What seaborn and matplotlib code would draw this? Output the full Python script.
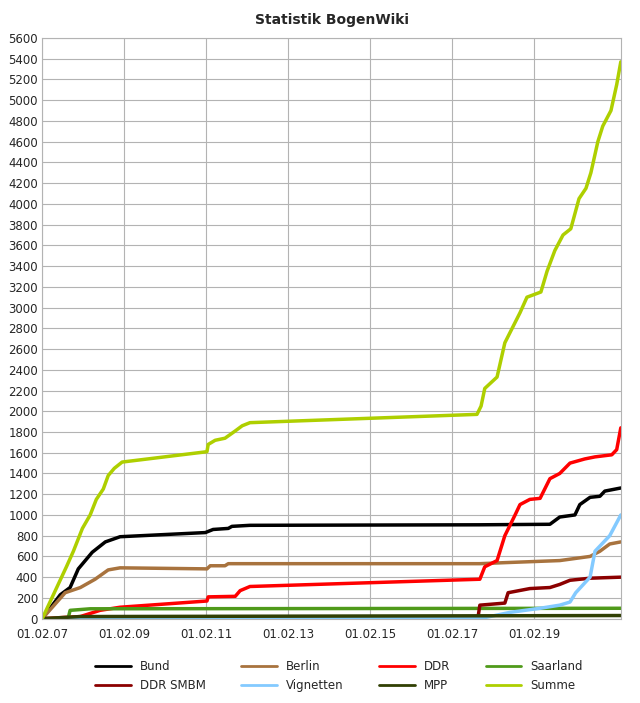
import matplotlib
matplotlib.use("Agg")
import matplotlib.pyplot as plt
import seaborn as sns
import pandas as pd

# x positions read in years since 01.02.2007
bund_x = [0,0.44,0.68,0.88,1.22,1.54,1.9,3.98,4.17,4.54,4.63,5.07,10.68,12.39,12.63,13.0,13.12,13.37,13.61,13.73,14.12]
bund_y = [0,230,300,480,640,740,790,830,860,870,890,900,905,910,980,1000,1100,1170,1180,1230,1260]
berlin_x = [0,0.56,0.93,1.29,1.61,1.9,4.02,4.1,4.46,4.54,10.68,11.29,12.63,13.37,13.61,13.85,14.12]
berlin_y = [0,250,300,380,470,490,480,510,510,530,530,540,560,600,650,720,740]
ddr_x = [0,0.93,1.41,1.9,4.02,4.05,4.71,4.83,5.07,10.68,10.8,11.1,11.29,11.54,11.66,11.9,12.15,12.39,12.63,12.88,13.24,13.49,13.9,14.02,14.12]
ddr_y = [0,20,80,110,170,210,215,270,310,380,500,560,800,1000,1100,1150,1160,1350,1400,1500,1540,1560,1580,1630,1840]
saar_x = [0,0.63,0.68,1.17,14.12]
saar_y = [0,0,80,95,100]
smbm_x = [0,10.63,10.68,11.29,11.37,11.9,12.39,12.63,12.88,13.37,14.12]
smbm_y = [0,0,130,150,250,290,300,330,370,390,400]
vign_x = [0,10.68,11.41,12.15,12.63,12.88,13.02,13.37,13.49,13.85,14.12]
vign_y = [0,0,60,100,130,160,250,400,650,800,1000]
mpp_x = [0,0.93,14.12]
mpp_y = [0,20,30]
summe_x = [0,0.59,0.76,0.98,1.17,1.32,1.49,1.61,1.76,1.95,4.02,4.05,4.22,4.46,4.71,4.88,5.07,10.61,10.71,10.8,11.1,11.29,11.66,11.83,12.17,12.32,12.51,12.71,12.9,13.1,13.27,13.39,13.56,13.68,13.88,14.02,14.12]
summe_y = [0,500,650,870,1000,1150,1250,1380,1450,1510,1610,1680,1720,1740,1810,1860,1890,1970,2050,2220,2330,2660,2950,3100,3150,3350,3550,3700,3760,4050,4150,4300,4600,4750,4900,5150,5370]

names = ["Bund","Berlin","DDR","Saarland","DDR SMBM","Vignetten","MPP","Summe"]
xs = [bund_x,berlin_x,ddr_x,saar_x,smbm_x,vign_x,mpp_x,summe_x]
ys = [bund_y,berlin_y,ddr_y,saar_y,smbm_y,vign_y,mpp_y,summe_y]
colors = ["#000000","#a8733e","#ff0000","#4f9a1a","#8b0000","#83caff","#314004","#aecf00"]

start = pd.Timestamp("2007-02-01")
rows = []
for n, xx, yy in zip(names, xs, ys):
    for a, b in zip(xx, yy):
        rows.append((n, start + pd.Timedelta(days=a*365.25), b))
df = pd.DataFrame(rows, columns=["series","date","value"])

sns.set_style("white")
fig, ax = plt.subplots(figsize=(6.4,7.03), dpi=100)
fig.subplots_adjust(left=0.066, right=0.97, top=0.946, bottom=0.12)
sns.lineplot(data=df, x="date", y="value", hue="series", hue_order=names,
             palette=dict(zip(names, colors)), estimator=None, sort=False,
             linewidth=2.5, ax=ax, legend=False)
ax.set_ylim(0,5600)
ax.set_yticks(range(0,5601,200))
ax.set_xlim(start, start + pd.Timedelta(days=14.12*365.25))
ticks = [pd.Timestamp(f"20{y:02d}-02-01") for y in range(7,20,2)]
ax.set_xticks(ticks)
ax.set_xticklabels([t.strftime("%d.%m.%y") for t in ticks])
ax.tick_params(axis="x", labelsize=8.5, length=0, pad=7)
ax.tick_params(axis="y", labelsize=8.5, length=0, pad=3)
ax.grid(axis="both", color="#b3b3b3", linewidth=0.8)
ax.set_axisbelow(True)
for s in ax.spines.values():
    s.set_color("#b3b3b3")
ax.set_xlabel(""); ax.set_ylabel("")
ax.set_title("Statistik BogenWiki", fontweight="bold", fontsize=10, pad=10)
handles = [plt.Line2D([],[],color=c,lw=2) for c in colors]
# matplotlib fills legend column-wise; reorder for row-wise layout
order = [0,4,1,5,2,6,3,7]
fig.legend([handles[i] for i in order], [names[i] for i in order],
           loc="lower center", ncol=4, frameon=False,
           fontsize=8.5, bbox_to_anchor=(0.53,0.0), columnspacing=3, handlelength=3)
fig.savefig("out.png")
